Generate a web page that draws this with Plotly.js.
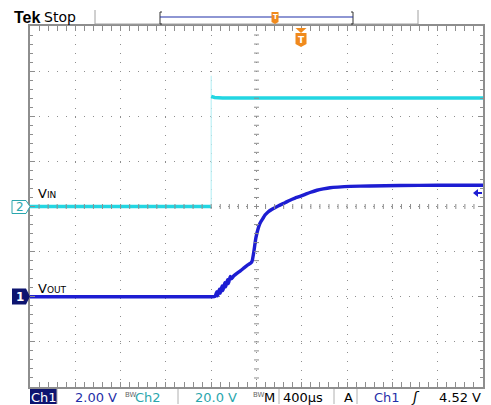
<!DOCTYPE html>
<html><head><meta charset="utf-8">
<script src="https://cdn.plot.ly/plotly-3.0.1.min.js"></script>
<style>html,body{margin:0;padding:0;background:#fff}#chart{width:491px;height:405px}</style>
</head><body><div id="chart"></div>
<script>
// ---- data (time in µs, relative to trigger; volts) ----
const vinLowTime  = [-2400, -800];
const vinLowVolts = [0, 0];
const vinEdgeTime  = [-800, -800, -800];
const vinEdgeVolts = [0, 58, 48];
const vinHighTime  = [-800, -770, -700, 1600];
const vinHighVolts = [48.8, 48.3, 48.1, 48.1];
const voutTime  = [-2400, -2000, -1600, -1200, -900, -800, -766, -750, -744, -728, -720, -704, -696, -680, -672, -656, -648, -632, -620, -600, -570, -540, -510, -480, -450, -440, -425, -405, -384, -370, -343, -325, -298, -263, -230, -193, -148, -104, -60, -16, 30, 72, 134, 190, 249, 320, 426, 600, 867, 1200, 1600];
const voutVolts = [0, 0, 0, 0, 0, 0, 0.02, 0.22, 0.04, 0.34, 0.16, 0.48, 0.28, 0.62, 0.44, 0.76, 0.58, 0.90, 0.80, 0.93, 1.05, 1.16, 1.28, 1.40, 1.50, 1.56, 1.95, 2.62, 3.05, 3.25, 3.47, 3.62, 3.76, 3.88, 3.97, 4.06, 4.17, 4.28, 4.37, 4.45, 4.54, 4.62, 4.72, 4.78, 4.83, 4.86, 4.89, 4.91, 4.93, 4.94, 4.94];
const ch1Scale = '2.00 V', ch2Scale = '20.0 V', timeScale = '400µs', trigLevel = '4.52 V';

const L = 30, T = 26, W = 453, H = 361;
const px = x => (x - L) / W;
const py = y => (T + H - y) / H;

const VIN = '#22d6e2', VOUT = '#1d1dd2', GRID = '#8e8e8e', NAVY = '#0d1470';

const traces = [
  {x: vinLowTime, y: vinLowVolts, yaxis: 'y2', mode: 'lines', line: {color: VIN, width: 3.6}, hoverinfo: 'skip'},
  {x: vinEdgeTime, y: vinEdgeVolts, yaxis: 'y2', mode: 'lines', line: {color: '#bdf1f5', width: 1.2}, hoverinfo: 'skip'},
  {x: vinHighTime, y: vinHighVolts, yaxis: 'y2', mode: 'lines', line: {color: VIN, width: 3.6}, hoverinfo: 'skip'},
  {x: voutTime, y: voutVolts, mode: 'lines', line: {color: VOUT, width: 3.4, shape: 'spline', smoothing: 0.6}, hoverinfo: 'skip'}
];

const axisCommon = {
  showgrid: true, gridcolor: GRID, gridwidth: 1, zeroline: false,
  showline: true, linecolor: GRID, linewidth: 2, mirror: 'allticks',
  ticks: 'inside', ticklen: 5, tickcolor: GRID, tickwidth: 1, showticklabels: false, fixedrange: true
};

const shapes = [];
// centre crosshair ticks
for (let i = 1; i < 50; i++) {
  const xp = i / 50;
  shapes.push({type: 'line', xref: 'paper', yref: 'paper', x0: xp, x1: xp, y0: 0.5 - 2.5 / H, y1: 0.5 + 2.5 / H, line: {color: GRID, width: 1}});
}
for (let i = 1; i < 40; i++) {
  const yp = i / 40;
  shapes.push({type: 'line', xref: 'paper', yref: 'paper', y0: yp, y1: yp, x0: 0.5 - 2.5 / W, x1: 0.5 + 2.5 / W, line: {color: GRID, width: 1}});
}
// top status bar
shapes.push({type: 'line', xref: 'paper', yref: 'paper', x0: px(95), x1: px(418), y0: py(24), y1: py(24), line: {color: '#a0a0a0', width: 1}});
shapes.push({type: 'line', xref: 'paper', yref: 'paper', x0: px(95), x1: px(95), y0: py(10), y1: py(24), line: {color: '#a0a0a0', width: 1}});
shapes.push({type: 'line', xref: 'paper', yref: 'paper', x0: px(418), x1: px(418), y0: py(10), y1: py(24), line: {color: '#a0a0a0', width: 1}});
shapes.push({type: 'path', xref: 'paper', yref: 'paper', path: `M${px(162)},${py(12)} L${px(160)},${py(12)} L${px(160)},${py(24)} L${px(162)},${py(24)}`, line: {color: '#333', width: 1}});
shapes.push({type: 'path', xref: 'paper', yref: 'paper', path: `M${px(351)},${py(12)} L${px(353)},${py(12)} L${px(353)},${py(24)} L${px(351)},${py(24)}`, line: {color: '#333', width: 1}});
shapes.push({type: 'line', xref: 'paper', yref: 'paper', x0: px(160), x1: px(353), y0: py(17), y1: py(17), line: {color: '#1f2fa8', width: 1.2}});
shapes.push({type: 'path', xref: 'paper', yref: 'paper', path: `M${px(271.5)},${py(12)} L${px(278.5)},${py(12)} L${px(278.5)},${py(22)} L${px(275)},${py(24)} L${px(271.5)},${py(22)} Z`, fillcolor: '#f08a1c', line: {width: 0}});
// trigger position marker
shapes.push({type: 'path', xref: 'paper', yref: 'paper', path: `M${px(295.5)},${py(28)} L${px(306.5)},${py(28)} L${px(301)},${py(33)} Z`, fillcolor: '#f08a1c', line: {width: 0}});
shapes.push({type: 'path', xref: 'paper', yref: 'paper', path: `M${px(295.5)},${py(33)} L${px(306.5)},${py(33)} L${px(306.5)},${py(44)} L${px(301)},${py(47)} L${px(295.5)},${py(44)} Z`, fillcolor: '#f08a1c', line: {width: 0}});
// trigger level arrow (right)
shapes.push({type: 'path', xref: 'paper', yref: 'paper', path: `M${px(473)},${py(193)} L${px(478)},${py(189)} L${px(478)},${py(192)} L${px(482)},${py(192)} L${px(482)},${py(194)} L${px(478)},${py(194)} L${px(478)},${py(197)} Z`, fillcolor: VOUT, line: {width: 0}});
// channel ground markers
shapes.push({type: 'path', xref: 'paper', yref: 'paper', path: `M${px(12)},${py(200.5)} L${px(26)},${py(200.5)} L${px(30)},${py(206.5)} L${px(26)},${py(213.5)} L${px(12)},${py(213.5)} Z`, fillcolor: '#ffffff', line: {color: '#2aa6ad', width: 1}});
shapes.push({type: 'path', xref: 'paper', yref: 'paper', path: `M${px(12)},${py(288.5)} L${px(26)},${py(288.5)} L${px(30)},${py(296.5)} L${px(26)},${py(304.5)} L${px(12)},${py(304.5)} Z`, fillcolor: NAVY, line: {width: 0}});
// bottom bar
shapes.push({type: 'rect', xref: 'paper', yref: 'paper', x0: px(30), x1: px(57), y0: py(389), y1: py(404), fillcolor: NAVY, line: {width: 0}});
[57, 178, 279, 334, 357].forEach(x => shapes.push({type: 'line', xref: 'paper', yref: 'paper', x0: px(x), x1: px(x), y0: py(389), y1: py(404), line: {color: '#b0b0b0', width: 1}}));

const F = 'DejaVu Sans, sans-serif';
const ann = (x, y, text, color, size, anchor, extra) => Object.assign({xref: 'paper', yref: 'paper', x: px(x), y: py(y), text: text, showarrow: false, xanchor: anchor || 'left', yanchor: 'middle', font: {family: F, size: size, color: color}}, extra || {});

const annotations = [
  ann(12, 17, '<b>Tek</b>', '#000', 16, 'left', {font: {family: 'Liberation Sans, Arial, sans-serif', size: 16, color: '#000'}}),
  ann(42, 17, 'Stop', '#000', 14),
  ann(301, 40, '<b>T</b>', '#fff', 9, 'center'),
  ann(275, 17.5, '<b>T</b>', '#fff', 7, 'center'),
  ann(19.5, 207, '2', '#2aa6ad', 12, 'center'),
  ann(19.5, 296.5, '<b>1</b>', '#fff', 12, 'center'),
  ann(36, 193, 'V<span style="font-size:9px">IN</span>', '#000', 13),
  ann(36, 288, 'V<span style="font-size:9px">OUT</span>', '#000', 13),
  ann(43.5, 397, 'Ch1', '#fff', 13, 'center'),
  ann(73, 397, ch1Scale, '#1f2fa8', 13),
  ann(123, 395, 'BW', '#666', 7),
  ann(133, 397, 'Ch2', '#2aa6ad', 13),
  ann(193, 397, ch2Scale, '#2aa6ad', 13),
  ann(251, 395, 'BW', '#666', 7),
  ann(262, 397, 'M', '#000', 13),
  ann(281, 397, timeScale, '#000', 13),
  ann(342, 397, 'A', '#000', 13),
  ann(372, 397, 'Ch1', '#1f2fa8', 13),
  ann(409, 397, '<i>ʃ</i>', '#000', 14),
  ann(483, 397, trigLevel, '#000', 13, 'right')
];

const layout = {
  width: 491, height: 405,
  margin: {l: L, r: 491 - L - W, t: T, b: 405 - T - H, pad: 0},
  paper_bgcolor: '#fff', plot_bgcolor: '#fff', showlegend: false,
  xaxis: Object.assign({}, axisCommon, {range: [-2400, 1600], tick0: 0, dtick: 400, griddash: '1px,8.06px',
    minor: {tick0: 0, dtick: 80, ticks: 'inside', ticklen: 3, tickcolor: GRID, showgrid: false}}),
  yaxis: Object.assign({}, axisCommon, {range: [-4, 12], tick0: 0, dtick: 2, griddash: '1px,8.02px',
    minor: {tick0: 0, dtick: 0.4, ticks: 'inside', ticklen: 3, tickcolor: GRID, showgrid: false}}),
  yaxis2: {overlaying: 'y', range: [-80, 80], visible: false, fixedrange: true},
  shapes: shapes,
  annotations: annotations
};

Plotly.newPlot('chart', traces, layout, {staticPlot: true, displayModeBar: false});
</script></body></html>
